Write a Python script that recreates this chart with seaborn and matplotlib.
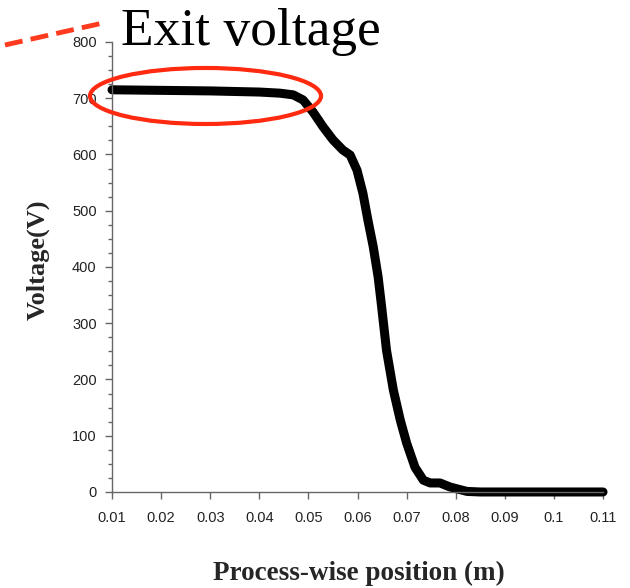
import matplotlib
matplotlib.use("Agg")
import matplotlib.pyplot as plt
from matplotlib.patches import Ellipse
from matplotlib.lines import Line2D
from matplotlib.ticker import MultipleLocator
import pandas as pd
import seaborn as sns

# Datos
position_m = [0.010, 0.020, 0.030, 0.040, 0.0442, 0.0469, 0.0489, 0.0509, 0.0530,
              0.0550, 0.0570, 0.0585, 0.0599, 0.0611, 0.0621, 0.0632, 0.0642,
              0.0649, 0.0659, 0.0673, 0.0687, 0.0700, 0.0717, 0.0734, 0.0748,
              0.0768, 0.0788, 0.0805, 0.0823, 0.0850, 0.090, 0.100, 0.110]
voltage_v = [715, 714, 713, 711, 709, 706, 697, 676, 649,
             626, 608, 599, 572, 531, 484, 436, 382,
             330, 252, 181, 128, 87, 44, 21, 16,
             16, 9, 5, 1, 0, 0, 0, 0]
x_ticks = [0.01, 0.02, 0.03, 0.04, 0.05, 0.06, 0.07, 0.08, 0.09, 0.1, 0.11]
x_tick_labels = ["0.01", "0.02", "0.03", "0.04", "0.05", "0.06", "0.07", "0.08", "0.09", "0.1", "0.11"]
y_ticks = [0, 100, 200, 300, 400, 500, 600, 700, 800]

df = pd.DataFrame({"pos": position_m, "volt": voltage_v})

sns.set_style("ticks")
plt.rcParams["font.family"] = ["Liberation Sans", "DejaVu Sans"]

fig = plt.figure(figsize=(6.3, 5.88), dpi=100)
ax = fig.add_axes([0.1778, 0.1633, 0.7794, 0.7653])

sns.lineplot(data=df, x="pos", y="volt", ax=ax, color="black", linewidth=6.5,
             solid_capstyle="round", solid_joinstyle="round", clip_on=False)

ax.set_xlim(0.01, 0.11)
ax.set_ylim(0, 800)
ax.set_xticks(x_ticks)
ax.set_xticklabels(x_tick_labels)
ax.set_yticks(y_ticks)
ax.yaxis.set_minor_locator(MultipleLocator(25))
ax.set_xlabel("")
ax.set_ylabel("")

sns.despine(ax=ax)
for side in ["left", "bottom"]:
    ax.spines[side].set_color("#666666")
    ax.spines[side].set_linewidth(1.0)
ax.tick_params(axis="both", which="major", length=5, width=1.0, color="#666666",
               labelsize=10.5, labelcolor="#222222", pad=6)
ax.tick_params(axis="y", which="minor", length=3, width=1.0, color="#666666")
ax.tick_params(axis="x", pad=9)

# Elipse roja sobre la meseta
ell = Ellipse((0.02904, 704), 0.04705, 99.6, fill=False, edgecolor="#ff2a10",
              linewidth=3.0, clip_on=False, zorder=5)
ax.add_patch(ell)

# Linea discontinua y texto
fig.add_artist(Line2D([0.0079, 0.1635], [0.9235, 0.9609], transform=fig.transFigure,
                      color="#ff3b1f", linewidth=3.5, linestyle=(0, (3.7, 1.7))))
fig.text(0.192, 0.9235, "Exit voltage", fontsize=38.4, family=["Liberation Serif"],
         va="baseline", ha="left", color="black")

fig.text(0.0611, 0.558, "Voltage(V)", rotation=90, fontsize=19, fontweight="bold",
         family=["Liberation Serif"], ha="center", va="center")
fig.text(0.57, 0.0247, "Process-wise position (m)", fontsize=19.5, fontweight="bold",
         family=["Liberation Serif"], ha="center", va="center")

fig.savefig("out.png", dpi=100)
